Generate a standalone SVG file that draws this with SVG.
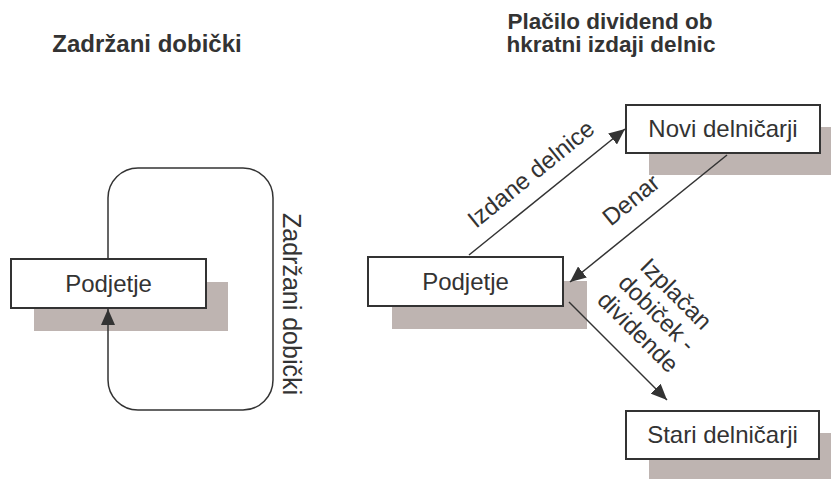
<svg xmlns="http://www.w3.org/2000/svg" width="831" height="479" viewBox="0 0 831 479">
<defs>
<style>
.shadow{fill:#beb4b1;stroke:none}
.box{fill:#ffffff;stroke:#333333;stroke-width:2}
.lbl{font-family:"Liberation Sans",Arial,Helvetica,sans-serif;font-size:24px;fill:#333333;text-anchor:middle}
.title{font-family:"Liberation Sans",Arial,Helvetica,sans-serif;font-size:22.5px;font-weight:bold;fill:#333333;text-anchor:middle}
.conn{fill:none;stroke:#333333;stroke-width:1.5}
</style>
<marker id="arr" viewBox="0 0 16 14" refX="16" refY="7" markerWidth="16" markerHeight="14" markerUnits="userSpaceOnUse" orient="auto">
<path d="M0,0 L16,7 L0,14 z" fill="#333333"/>
</marker>
</defs>
<rect width="831" height="479" fill="#ffffff"/>

<text class="title" x="147" y="52" style="font-size:24px">Zadržani dobički</text>
<text class="title" x="610" y="29">Plačilo dividend ob</text>
<text class="title" x="611" y="52">hkratni izdaji delnic</text>

<g id="shadows">
<rect class="shadow" x="34" y="282" width="194" height="49"/>
<rect class="shadow" x="392" y="281" width="195" height="48"/>
<rect class="shadow" x="649" y="127" width="182" height="48"/>
<rect class="shadow" x="649" y="433" width="182" height="46"/>
</g>

<g id="connectors">
<path class="conn" d="M108,259 V198 A30,30 0 0 1 138,168 H243 A30,30 0 0 1 273,198 V380 A30,30 0 0 1 243,410 H138 A30,30 0 0 1 108,380 V309" marker-end="url(#arr)"/>
<line class="conn" x1="469" y1="255" x2="625" y2="129" marker-end="url(#arr)"/>
<line class="conn" x1="727" y1="155" x2="570" y2="282" marker-end="url(#arr)"/>
<line class="conn" x1="569" y1="302" x2="667" y2="400" marker-end="url(#arr)"/>
<text class="lbl" transform="translate(291,304) rotate(90)" x="0" y="8" style="font-size:25px">Zadržani dobički</text>
<text class="lbl" transform="translate(531,174) rotate(-39)" x="0" y="8">Izdane delnice</text>
<text class="lbl" transform="translate(631,200) rotate(-39)" x="0" y="8">Denar</text>
<g transform="translate(657,313) rotate(45)">
<text class="lbl" x="0" y="-19">Izplačan</text>
<text class="lbl" x="0" y="8">dobiček -</text>
<text class="lbl" x="0" y="35">dividende</text>
</g>
</g>

<g id="podjetje-left">
<rect class="box" x="11" y="259" width="195" height="49"/>
<text class="lbl" x="108.5" y="292">Podjetje</text>
</g>
<g id="podjetje-right">
<rect class="box" x="368" y="257" width="195" height="49"/>
<text class="lbl" x="465.5" y="290">Podjetje</text>
</g>
<g id="novi-delnicarji">
<rect class="box" x="626" y="105" width="194" height="48"/>
<text class="lbl" x="723" y="137">Novi delničarji</text>
</g>
<g id="stari-delnicarji">
<rect class="box" x="626" y="411" width="193" height="48"/>
<text class="lbl" x="722.5" y="443">Stari delničarji</text>
</g>
</svg>
